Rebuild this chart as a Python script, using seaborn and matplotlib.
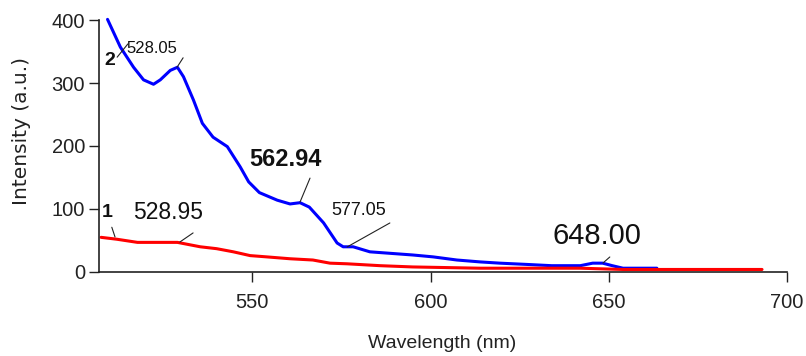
import matplotlib
matplotlib.use("Agg")
import matplotlib.pyplot as plt
import seaborn as sns

# spectrum 2 (blue) and spectrum 1 (red)
wl_2 = [509.4, 513, 516.7, 519.5, 522.3, 524.2, 527, 529, 530.7, 533.5, 536, 539,
        543, 546.6, 549, 552, 557, 560.6, 563.4, 566, 570, 573.8, 575.5, 578.3,
        583, 587.8, 595, 600.7, 607.4, 613.9, 619.5, 627, 634, 642, 645.5, 648.3,
        651, 654, 663.5]
int_2 = [401, 357, 325, 305, 298, 305, 320, 325, 310, 273, 236, 214,
         199, 167, 143, 126, 114, 108, 110, 103, 78, 46, 40, 40,
         32, 30, 27, 24, 19, 16, 14, 12, 10, 10, 14, 14,
         10, 6, 6]

wl_1 = [507.6, 512, 517.8, 529, 535.4, 540, 544.7, 549.4, 554, 560.6, 567, 571.8,
        576.6, 585.9, 595, 613.9, 641.9, 654, 693]
int_1 = [55, 52, 47, 47, 40, 37, 32, 26, 24, 21, 19, 14,
         13, 10, 8, 6, 6, 4, 4]

x_ticks = [550, 600, 650, 700]
y_ticks = [0, 100, 200, 300, 400]

# peak labels: text, text position, leader start, leader end, size, weight
peaks = [
    ("528.05", (521.9, 355), (528.9, 325), (530.6, 340), 12, "normal"),
    ("528.95", (526.4, 95), (529.7, 47.6), (533.4, 62), 16.5, "normal"),
    ("562.94", (559.2, 178), (563.4, 111), (566.2, 149), 17, "bold"),
    ("577.05", (579.9, 98), (576.6, 39.7), (588.6, 77.8), 13, "normal"),
    ("648.00", (646.7, 57), (648.4, 14.3), (650.3, 23.8), 21, "normal"),
]
curve_ids = [
    ("2", (510.1, 336), (512.1, 341), (515.1, 362)),
    ("1", (509.2, 94), (510.6, 71), (511.5, 55.6)),
]

sns.set_style("ticks")
plt.rcParams['font.family'] = ['Liberation Sans', 'DejaVu Sans']

fig = plt.figure(figsize=(8.06, 3.56), dpi=100)
ax = fig.add_axes([0.1228, 0.236, 0.8536, 0.7078])

sns.lineplot(x=wl_2, y=int_2, color="#0000ff", lw=2.2, sort=False,
             estimator=None, ax=ax, clip_on=False)
sns.lineplot(x=wl_1, y=int_1, color="#ff0000", lw=2.2, sort=False,
             estimator=None, ax=ax, clip_on=False)

ax.set_xlim(507, 700)
ax.set_ylim(0, 400)
ax.set_xticks(x_ticks)
ax.set_yticks(y_ticks)
sns.despine(ax=ax)
for s in ["left", "bottom"]:
    ax.spines[s].set_color("#222222")
    ax.spines[s].set_linewidth(1.2)
ax.tick_params(direction="out", length=7, width=1, color="#222222",
               labelsize=14.5, labelcolor="#222222")
ax.tick_params(axis="x", pad=8)
ax.tick_params(axis="y", pad=3)

for txt, pos, p0, p1, size, weight in peaks:
    ax.text(pos[0], pos[1], txt, fontsize=size, fontweight=weight, ha="center",
            va="center", color="#111111")
    ax.plot([p0[0], p1[0]], [p0[1], p1[1]], color="#222222", lw=0.8)

for txt, pos, p0, p1 in curve_ids:
    ax.text(pos[0], pos[1], txt, fontsize=14, fontweight="bold", ha="center",
            va="center", color="#111111")
    ax.plot([p0[0], p1[0]], [p0[1], p1[1]], color="#222222", lw=0.8)

ax.set_xlabel("Wavelength (nm)", fontsize=14, color="#222222", va="center")
ax.xaxis.set_label_coords(0.4985, -0.282)
ax.set_ylabel("Intensity (a.u.)", fontsize=14.5, color="#222222", va="center",
              family=['DejaVu Sans'])
ax.yaxis.set_label_coords(-0.112, 0.56)

fig.savefig("out.png", dpi=100)
